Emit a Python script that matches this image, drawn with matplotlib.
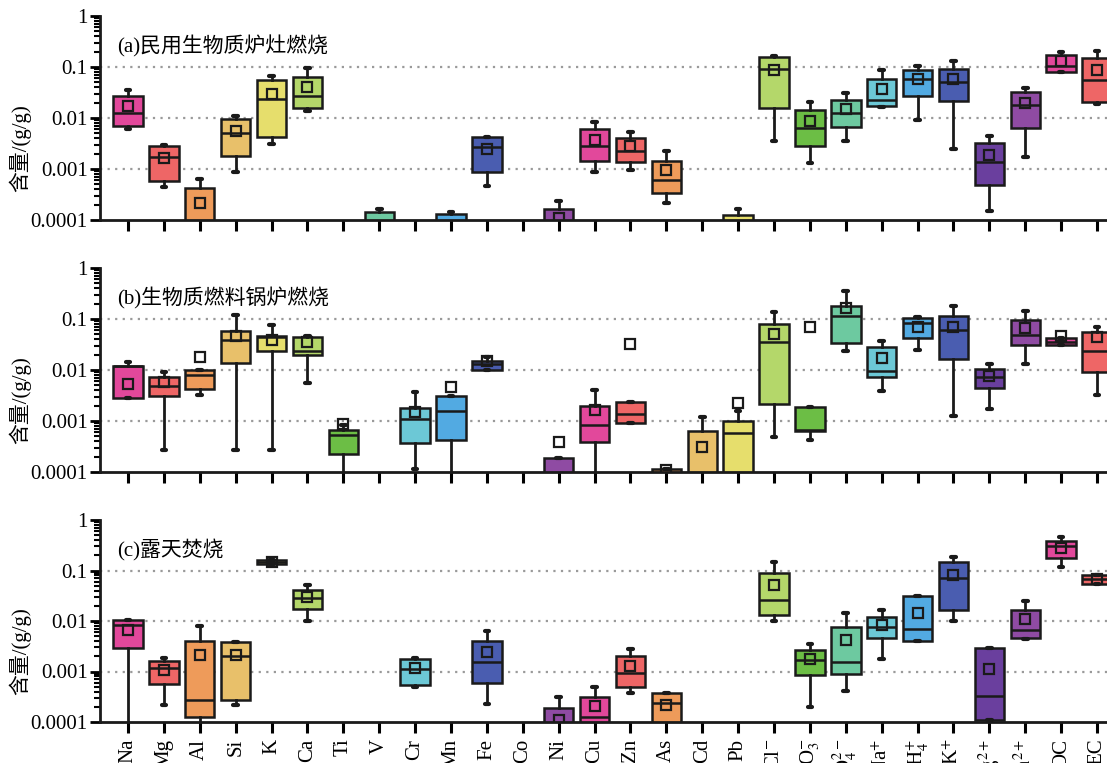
import matplotlib
import matplotlib.pyplot as plt
import numpy as np

matplotlib.use("Agg")
plt.rcParams["font.family"] = ["Liberation Serif", "Noto Sans CJK SC"]
plt.rcParams["mathtext.fontset"] = "stix"

N = np.nan

SPECIES = [
    "Na", "Mg", "Al", "Si", "K", "Ca", "Ti", "V", "Cr", "Mn", "Fe", "Co", "Ni", "Cu",
    "Zn", "As", "Cd", "Pb", r"Cl$^{-}$", r"NO$_3^{-}$", r"SO$_4^{2-}$", r"Na$^{+}$",
    r"NH$_4^{+}$", r"K$^{+}$", r"Mg$^{2+}$", r"Ca$^{2+}$", "OC", "EC",
]

# (a) 民用生物质炉灶燃烧
A_Q1 = [0.0069, 0.00057, 5e-5, 0.0018, 0.0042, 0.0157, N, 5e-5, N, 5e-5, 0.00086, N, 5e-5, 0.00146,
        0.00139, 0.000333, N, 5e-5, 0.016, 0.00278, 0.00667, 0.0175, 0.0274, 0.0219, 0.00049, 0.00637, 0.081, 0.0209]
A_MED = [0.0127, 0.00172, 8e-5, 0.00515, 0.0239, 0.027, N, 8e-5, N, 8e-5, 0.0027, N, 8e-5, 0.00287,
         0.00225, 0.000618, N, 8e-5, 0.09, 0.00637, 0.0124, 0.0225, 0.0582, 0.05, 0.00135, 0.018, 0.106, 0.0565]
A_Q3 = [0.027, 0.00283, 0.000424, 0.0094, 0.0565, 0.0646, N, 0.000141, N, 0.000131, 0.00418, N, 0.000164, 0.00608,
        0.00405, 0.00146, N, 0.000127, 0.16, 0.0146, 0.0229, 0.0573, 0.0887, 0.0914, 0.00324, 0.0328, 0.169, 0.148]
A_LO = [0.0062, 0.00044, 3e-5, 0.00087, 0.0031, 0.0135, N, 3e-5, N, 3e-5, 0.000457, N, 3e-5, 0.00086,
        0.00094, 0.000219, N, 3e-5, 0.0035, 0.00133, 0.0036, 0.0162, 0.009, 0.00247, 0.00015, 0.0017, 0.081, 0.0185]
A_HI = [0.036, 0.003, 0.00065, 0.0108, 0.0667, 0.094, N, 0.000162, N, 0.000141, 0.0042, N, 0.000232, 0.00835,
        0.0054, 0.00222, N, 0.000167, 0.165, 0.0203, 0.0314, 0.086, 0.103, 0.129, 0.0045, 0.039, 0.2, 0.206]
A_MEAN = [0.0172, 0.00168, 0.000212, 0.0056, 0.030, 0.041, N, 6e-5, N, 6e-5, 0.00243, N, 0.000111, 0.00371,
          0.00278, 0.00094, N, 6e-5, 0.086, 0.0086, 0.0152, 0.0376, 0.057, 0.059, 0.00188, 0.0197, 0.129, 0.086]

# (b) 生物质燃料锅炉燃烧
B_Q1 = [0.00284, 0.00316, 0.00428, 0.0137, 0.024, 0.0195, 0.00023, N, 0.000373, 0.000428, 0.0102, N, 5e-5, 0.00039,
        0.0009, 5e-5, 5e-5, 5e-5, 0.00217, 0.000644, 0.0336, 0.0073, 0.0428, 0.0167, 0.00441, 0.0311, 0.0316, 0.009]
B_MED = [0.0118, 0.0049, 0.00785, 0.038, 0.045, 0.0237, 0.00053, N, 0.00108, 0.00155, 0.0133, N, 8e-5, 0.00085,
         0.00137, 8e-5, 8e-5, 0.00057, 0.0362, 0.00068, 0.113, 0.0094, 0.082, 0.0607, 0.00716, 0.0476, 0.0362, 0.0234]
B_Q3 = [0.0118, 0.00716, 0.00985, 0.058, 0.0462, 0.0435, 0.000654, N, 0.00178, 0.00307, 0.0153, N, 0.000189, 0.00201,
        0.00241, 0.000116, 0.000635, 0.001, 0.0797, 0.00192, 0.18, 0.028, 0.105, 0.113, 0.0105, 0.094, 0.0422, 0.0546]
B_LO = [0.00284, 0.000268, 0.0032, 0.000268, 0.000268, 0.0056, 5e-5, N, 0.000116, 8e-5, 0.0102, N, 3e-5, 5e-5,
        0.0009, 3e-5, 3e-5, 3e-5, 0.000476, 0.000428, 0.0237, 0.00385, 0.0245, 0.00127, 0.00175, 0.0131, 0.0316, 0.00326]
B_HI = [0.0144, 0.0091, 0.00985, 0.12, 0.075, 0.0462, 0.00083, N, 0.00368, 0.00307, 0.0178, N, 0.000189, 0.00397,
        0.00241, 0.000116, 0.0012, 0.00157, 0.135, 0.00192, 0.35, 0.0368, 0.11, 0.183, 0.0131, 0.146, 0.0422, 0.0685]
B_MEAN = [0.0052, 0.0058, 0.0178, 0.0462, 0.0385, 0.0352, 0.00087, N, 0.00148, 0.00461, 0.0153, N, 0.00039, 0.00165,
          0.033, 0.000108, 0.000316, 0.0023, 0.0506, 0.0695, 0.162, 0.0173, 0.0706, 0.0685, 0.0076, 0.0675, 0.0462, 0.0441]

# (c) 露天焚烧
C_Q1 = [0.00293, 0.000554, 0.000127, 0.000268, 0.133, 0.0173, N, N, 0.00053, N, 0.00058, N, 5e-5, 5e-5,
        0.000483, 5e-5, N, N, 0.0131, 0.00087, 0.0009, 0.00455, 0.00397, 0.0165, 0.000111, 0.00455, 0.178, 0.0546]
C_MED = [0.0082, 0.00118, 0.000272, 0.00201, 0.148, 0.0284, N, N, 0.00113, N, 0.00153, N, 8e-5, 0.000127,
         0.00094, 0.000241, N, N, 0.0256, 0.00167, 0.00151, 0.0076, 0.00706, 0.0716, 0.000326, 0.00675, 0.302, 0.0664]
C_Q3 = [0.0106, 0.00165, 0.00409, 0.00385, 0.16, 0.0415, N, N, 0.0018, N, 0.00409, N, 0.000189, 0.000316,
        0.00204, 0.000368, N, N, 0.09, 0.00264, 0.0076, 0.012, 0.0316, 0.146, 0.00289, 0.0165, 0.379, 0.081]
C_LO = [3e-5, 0.000217, 5e-5, 0.000213, 0.133, 0.0098, N, N, 0.0005, N, 0.000223, N, 3e-5, 3e-5,
        0.000379, 3e-5, N, N, 0.0102, 0.000201, 0.000403, 0.0018, 0.00397, 0.0102, 0.000111, 0.0044, 0.116, 0.0546]
C_HI = [0.0106, 0.00186, 0.008, 0.0039, 0.16, 0.0514, N, N, 0.00188, N, 0.00625, N, 0.000307, 0.0005,
        0.0028, 0.000368, N, N, 0.148, 0.00357, 0.0142, 0.0162, 0.0316, 0.183, 0.00289, 0.0252, 0.455, 0.081]
C_MEAN = [0.00664, 0.00108, 0.00213, 0.0021, 0.148, 0.0302, N, N, 0.00118, N, 0.00244, N, 0.000108, 0.00021,
          0.00126, 0.000217, N, N, 0.0521, 0.0018, 0.00428, 0.0085, 0.0144, 0.082, 0.00111, 0.0109, 0.284, 0.0664]

TITLES = ["(a)民用生物质炉灶燃烧", "(b)生物质燃料锅炉燃烧", "(c)露天焚烧"]
GRID_LEVELS = [0.1, 0.01, 0.001]

PALETTE = ["#E2489B", "#EE6666", "#EE9B5A", "#E8C06A", "#E6DE6C", "#B4D76A", "#6CBE45",
           "#6DC9A0", "#6CC8D6", "#52AAE2", "#4A5DB0", "#6A3F9E", "#8F4BA3"]

panels = [
    (A_Q1, A_MED, A_Q3, A_LO, A_HI, A_MEAN),
    (B_Q1, B_MED, B_Q3, B_LO, B_HI, B_MEAN),
    (C_Q1, C_MED, C_Q3, C_LO, C_HI, C_MEAN),
]

fig = plt.figure(figsize=(11.07, 7.63), dpi=100)
# 各子图位置(像素换算成图坐标)，右侧超出画幅
axes_rects = [
    [100 / 1107, (763 - 220) / 763, 1015 / 1107, 204 / 763],
    [100 / 1107, (763 - 472) / 763, 1015 / 1107, 204 / 763],
    [100 / 1107, (763 - 722) / 763, 1015 / 1107, 202 / 763],
]

for k, (rect, data, title) in enumerate(zip(axes_rects, panels, TITLES)):
    ax = fig.add_axes(rect)
    q1, med, q3, lo, hi, mean = data
    stats, pos, cols = [], [], []
    for i in range(len(SPECIES)):
        if np.isnan(q1[i]):
            continue
        stats.append(dict(q1=q1[i], med=med[i], q3=q3[i], whislo=lo[i], whishi=hi[i],
                          mean=mean[i], fliers=[]))
        pos.append(i)
        cols.append(PALETTE[i % len(PALETTE)])

    for lvl in GRID_LEVELS:
        ax.axhline(lvl, color="#9a9a9a", lw=1.6, ls=(0, (1, 2.4)), zorder=0)

    bp = ax.bxp(
        stats, positions=pos, widths=0.82, capwidths=0.13, showmeans=True,
        patch_artist=True, showfliers=False,
        boxprops=dict(edgecolor="#1a1a1a", linewidth=1.8),
        medianprops=dict(color="#1a1a1a", linewidth=1.8),
        whiskerprops=dict(color="#1a1a1a", linewidth=2.0),
        capprops=dict(color="#1a1a1a", linewidth=3.0, solid_capstyle="round"),
        meanprops=dict(marker="s", markerfacecolor="none", markeredgecolor="#1a1a1a",
                       markeredgewidth=1.6, markersize=7),
    )
    for patch, c in zip(bp["boxes"], cols):
        patch.set_facecolor(c)

    ax.set_yscale("log")
    ax.set_ylim(1e-4, 1)
    ax.set_xlim(-0.78, 27.5)
    ax.set_yticks([1e-4, 1e-3, 1e-2, 1e-1, 1])
    ax.set_yticklabels(["0.0001", "0.001", "0.01", "0.1", "1"])
    ax.set_xticks(range(len(SPECIES)))
    if k == 2:
        ax.set_xticklabels(SPECIES, rotation=90, fontsize=15)
    else:
        ax.set_xticklabels([])

    for side in ["top", "right"]:
        ax.spines[side].set_visible(False)
    for side in ["left", "bottom"]:
        ax.spines[side].set_linewidth(2.0)
        ax.spines[side].set_color("#1a1a1a")
    ax.tick_params(axis="y", which="major", direction="out", length=7, width=2, labelsize=15, pad=2)
    ax.tick_params(axis="y", which="minor", direction="out", length=4, width=1.5)
    ax.tick_params(axis="x", direction="out", length=8, width=2.2, pad=4)

    ax.set_ylabel("含量/(g/g)", fontsize=15)
    ax.yaxis.set_label_coords(-0.068, 0.35)
    ax.text(0.017, 0.853, title, transform=ax.transAxes, fontsize=15, va="center", ha="left")

fig.savefig("out.png", dpi=100)
